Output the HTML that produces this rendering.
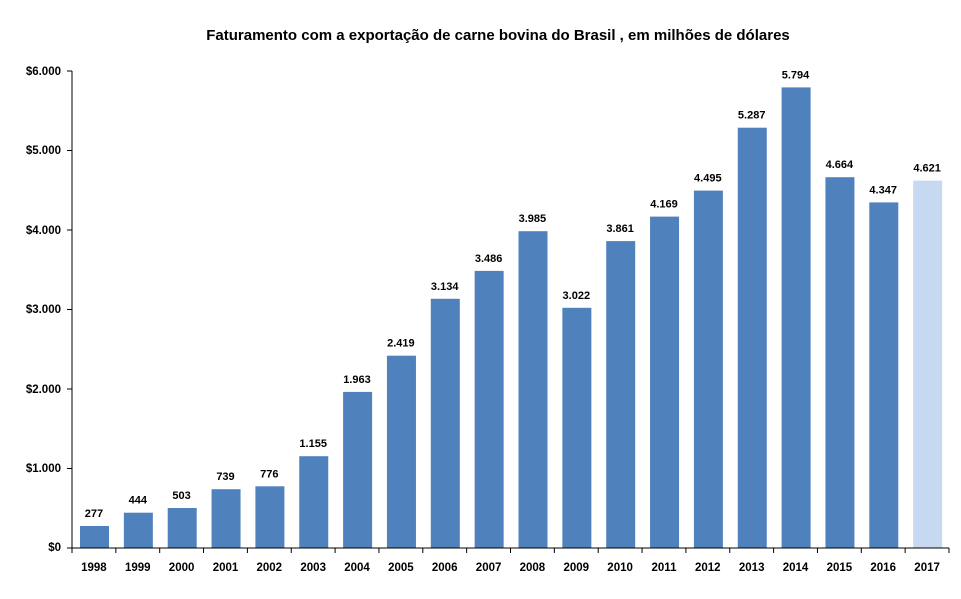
<!DOCTYPE html><html><head><meta charset="utf-8"><style>body{margin:0;background:#fff}</style></head><body>
<svg width="961" height="594" xmlns="http://www.w3.org/2000/svg" font-family="Liberation Sans, sans-serif" font-weight="bold">
<rect width="961" height="594" fill="#fff"/>
<text x="498" y="40" text-anchor="middle" font-size="15">Faturamento com a  exportação de carne bovina do  Brasil , em milhões de dólares</text>
<g font-size="11.5" text-anchor="end" fill="#000">
<text x="61" y="75">$6.000</text><text x="61" y="154">$5.000</text><text x="61" y="234">$4.000</text><text x="61" y="313">$3.000</text><text x="61" y="393">$2.000</text><text x="61" y="472">$1.000</text><text x="61" y="551">$0</text>
</g>
<g fill="#4F81BD">
<rect x="80" y="526" width="29" height="22"/>
<rect x="123.85" y="512.7" width="29" height="35.3"/>
<rect x="167.7" y="508" width="29" height="40"/>
<rect x="211.55" y="489.2" width="29" height="58.8"/>
<rect x="255.4" y="486.3" width="29" height="61.7"/>
<rect x="299.25" y="456.2" width="29" height="91.8"/>
<rect x="343.1" y="391.9" width="29" height="156.1"/>
<rect x="386.95" y="355.7" width="29" height="192.3"/>
<rect x="430.8" y="298.8" width="29" height="249.2"/>
<rect x="474.65" y="270.9" width="29" height="277.1"/>
<rect x="518.5" y="231.2" width="29" height="316.8"/>
<rect x="562.35" y="307.8" width="29" height="240.2"/>
<rect x="606.2" y="241.1" width="29" height="306.9"/>
<rect x="650.05" y="216.6" width="29" height="331.4"/>
<rect x="693.9" y="190.6" width="29" height="357.4"/>
<rect x="737.75" y="127.7" width="29" height="420.3"/>
<rect x="781.6" y="87.4" width="29" height="460.6"/>
<rect x="825.45" y="177.2" width="29" height="370.8"/>
<rect x="869.3" y="202.4" width="29" height="345.6"/>
<rect x="913.15" y="180.6" width="29" height="367.4" fill="#C6D9F1"/>
</g>
<g font-size="11" text-anchor="middle" fill="#000">
<text x="93.9" y="517">277</text>
<text x="137.8" y="503.7">444</text>
<text x="181.6" y="499">503</text>
<text x="225.5" y="480.2">739</text>
<text x="269.3" y="477.3">776</text>
<text x="313.2" y="447.2">1.155</text>
<text x="357" y="382.9">1.963</text>
<text x="400.9" y="346.7">2.419</text>
<text x="444.7" y="289.8">3.134</text>
<text x="488.6" y="261.9">3.486</text>
<text x="532.4" y="222.2">3.985</text>
<text x="576.3" y="298.8">3.022</text>
<text x="620.1" y="232.1">3.861</text>
<text x="664" y="207.6">4.169</text>
<text x="707.8" y="181.6">4.495</text>
<text x="751.7" y="118.7">5.287</text>
<text x="795.5" y="78.4">5.794</text>
<text x="839.4" y="168.2">4.664</text>
<text x="883.2" y="193.4">4.347</text>
<text x="927.1" y="171.6">4.621</text>
</g>
<g font-size="11.5" text-anchor="middle" fill="#000">
<text x="93.9" y="571">1998</text><text x="137.8" y="571">1999</text><text x="181.6" y="571">2000</text><text x="225.5" y="571">2001</text><text x="269.3" y="571">2002</text><text x="313.2" y="571">2003</text><text x="357" y="571">2004</text><text x="400.9" y="571">2005</text><text x="444.7" y="571">2006</text><text x="488.6" y="571">2007</text><text x="532.4" y="571">2008</text><text x="576.3" y="571">2009</text><text x="620.1" y="571">2010</text><text x="664" y="571">2011</text><text x="707.8" y="571">2012</text><text x="751.7" y="571">2013</text><text x="795.5" y="571">2014</text><text x="839.4" y="571">2015</text><text x="883.2" y="571">2016</text><text x="927.1" y="571">2017</text>
</g>
<line x1="72" y1="71" x2="72" y2="548" stroke="#000"/>
<g stroke="#000"><line x1="67" y1="71" x2="72" y2="71"/><line x1="67" y1="150.5" x2="72" y2="150.5"/><line x1="67" y1="230" x2="72" y2="230"/><line x1="67" y1="309.5" x2="72" y2="309.5"/><line x1="67" y1="389" x2="72" y2="389"/><line x1="67" y1="468.5" x2="72" y2="468.5"/></g>
<line x1="67" y1="548" x2="949" y2="548" stroke="#000"/>
<path stroke="#000" d="M72 548v5M115.85 548v5M159.7 548v5M203.55 548v5M247.4 548v5M291.25 548v5M335.1 548v5M378.95 548v5M422.8 548v5M466.65 548v5M510.5 548v5M554.35 548v5M598.2 548v5M642.05 548v5M685.9 548v5M729.75 548v5M773.6 548v5M817.45 548v5M861.3 548v5M905.15 548v5M949 548v5"/>
</svg></body></html>
